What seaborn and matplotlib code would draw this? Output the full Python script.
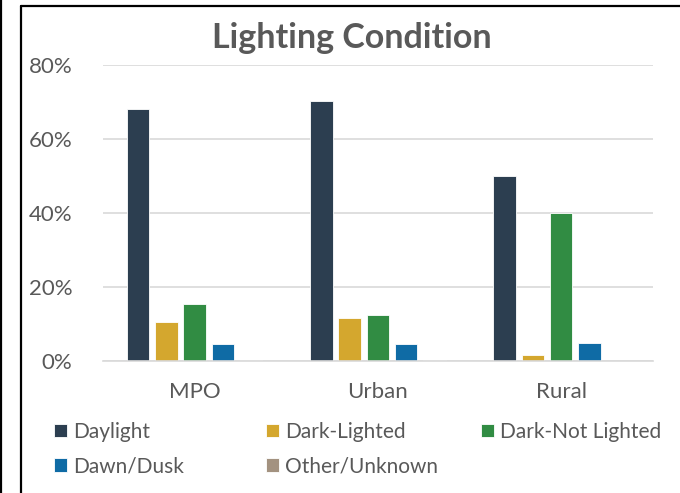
import pandas as pd
import numpy as np
import seaborn as sns
import matplotlib.pyplot as plt
from matplotlib.lines import Line2D
from matplotlib.ticker import PercentFormatter

regions = ['MPO', 'Urban', 'Rural']
conditions = ['Daylight', 'Dark-Lighted', 'Dark-Not Lighted', 'Dawn/Dusk', 'Other/Unknown']
daylight = [0.680, 0.703, 0.499]
dark_lighted = [0.105, 0.116, 0.016]
dark_not_lighted = [0.154, 0.124, 0.400]
dawn_dusk = [0.046, 0.046, 0.050]
other_unknown = [0.002, 0.003, 0.001]
colors = ['#2C3E50', '#D4A72E', '#318C43', '#0F6BA5', '#A39280']

values = [daylight, dark_lighted, dark_not_lighted, dawn_dusk, other_unknown]
df = pd.DataFrame({
    'region': regions * len(conditions),
    'condition': np.repeat(conditions, len(regions)),
    'share': np.concatenate(values),
})

sns.set_style('white')
plt.rcParams['font.family'] = ['Lato', 'DejaVu Sans']
grey = '#595959'

fig = plt.figure(figsize=(6.8, 4.93), dpi=100)
ax = fig.add_axes([0.1515, 0.2677, 0.8085, 0.6003])

sns.barplot(data=df, x='region', y='share', hue='condition', hue_order=conditions,
            order=regions, palette=colors, saturation=1, width=0.77, gap=0.2,
            edgecolor='white', linewidth=0.6, ax=ax)

handles, labels = ax.get_legend_handles_labels()
ax.get_legend().remove()

ax.set_ylim(0, 0.8)
ax.set_yticks([0, 0.2, 0.4, 0.6, 0.8])
ax.yaxis.set_major_formatter(PercentFormatter(1.0, decimals=0))
ax.set_xlim(-0.5, 2.5)
ax.set_xlabel('')
ax.set_ylabel('')
ax.grid(axis='y', color='#D9D9D9', linewidth=1.2)
ax.set_axisbelow(True)
for s in ['left', 'right', 'top']:
    ax.spines[s].set_visible(False)
ax.spines['bottom'].set_color('#D9D9D9')
ax.spines['bottom'].set_linewidth(1.2)
ax.tick_params(axis='both', length=0, labelsize=16, labelcolor=grey)
ax.tick_params(axis='y', pad=22)
ax.tick_params(axis='x', pad=15)

fig.text(0.517, 1 - 38 / 493, 'Lighting Condition', ha='center', va='center',
         fontsize=24.5, fontweight='bold', color=grey)

# legend laid out in fixed columns like the original
columns = [[0, 3], [1, 4], [2]]
col_x = [54, 266, 481]
for idx, cx in zip(columns, col_x):
    cy = 449 if len(idx) == 2 else 432
    fig.legend([handles[i] for i in idx], [labels[i] for i in idx],
               loc='center left', bbox_to_anchor=(cx / 680, 1 - cy / 493),
               frameon=False, fontsize=15, labelcolor=grey,
               handlelength=0.62, handleheight=0.62, handletextpad=0.3,
               labelspacing=0.7, borderpad=0, borderaxespad=0)

# frame lines
fig.add_artist(Line2D([21 / 680, 21 / 680], [0, 1 - 6 / 493], color='black', lw=1.6))
fig.add_artist(Line2D([21 / 680, 1], [1 - 6 / 493, 1 - 6 / 493], color='black', lw=1.6))
fig.add_artist(Line2D([1 / 680, 1 / 680], [0, 1], color='black', lw=1.6))

fig.savefig('out.png', dpi=100)
